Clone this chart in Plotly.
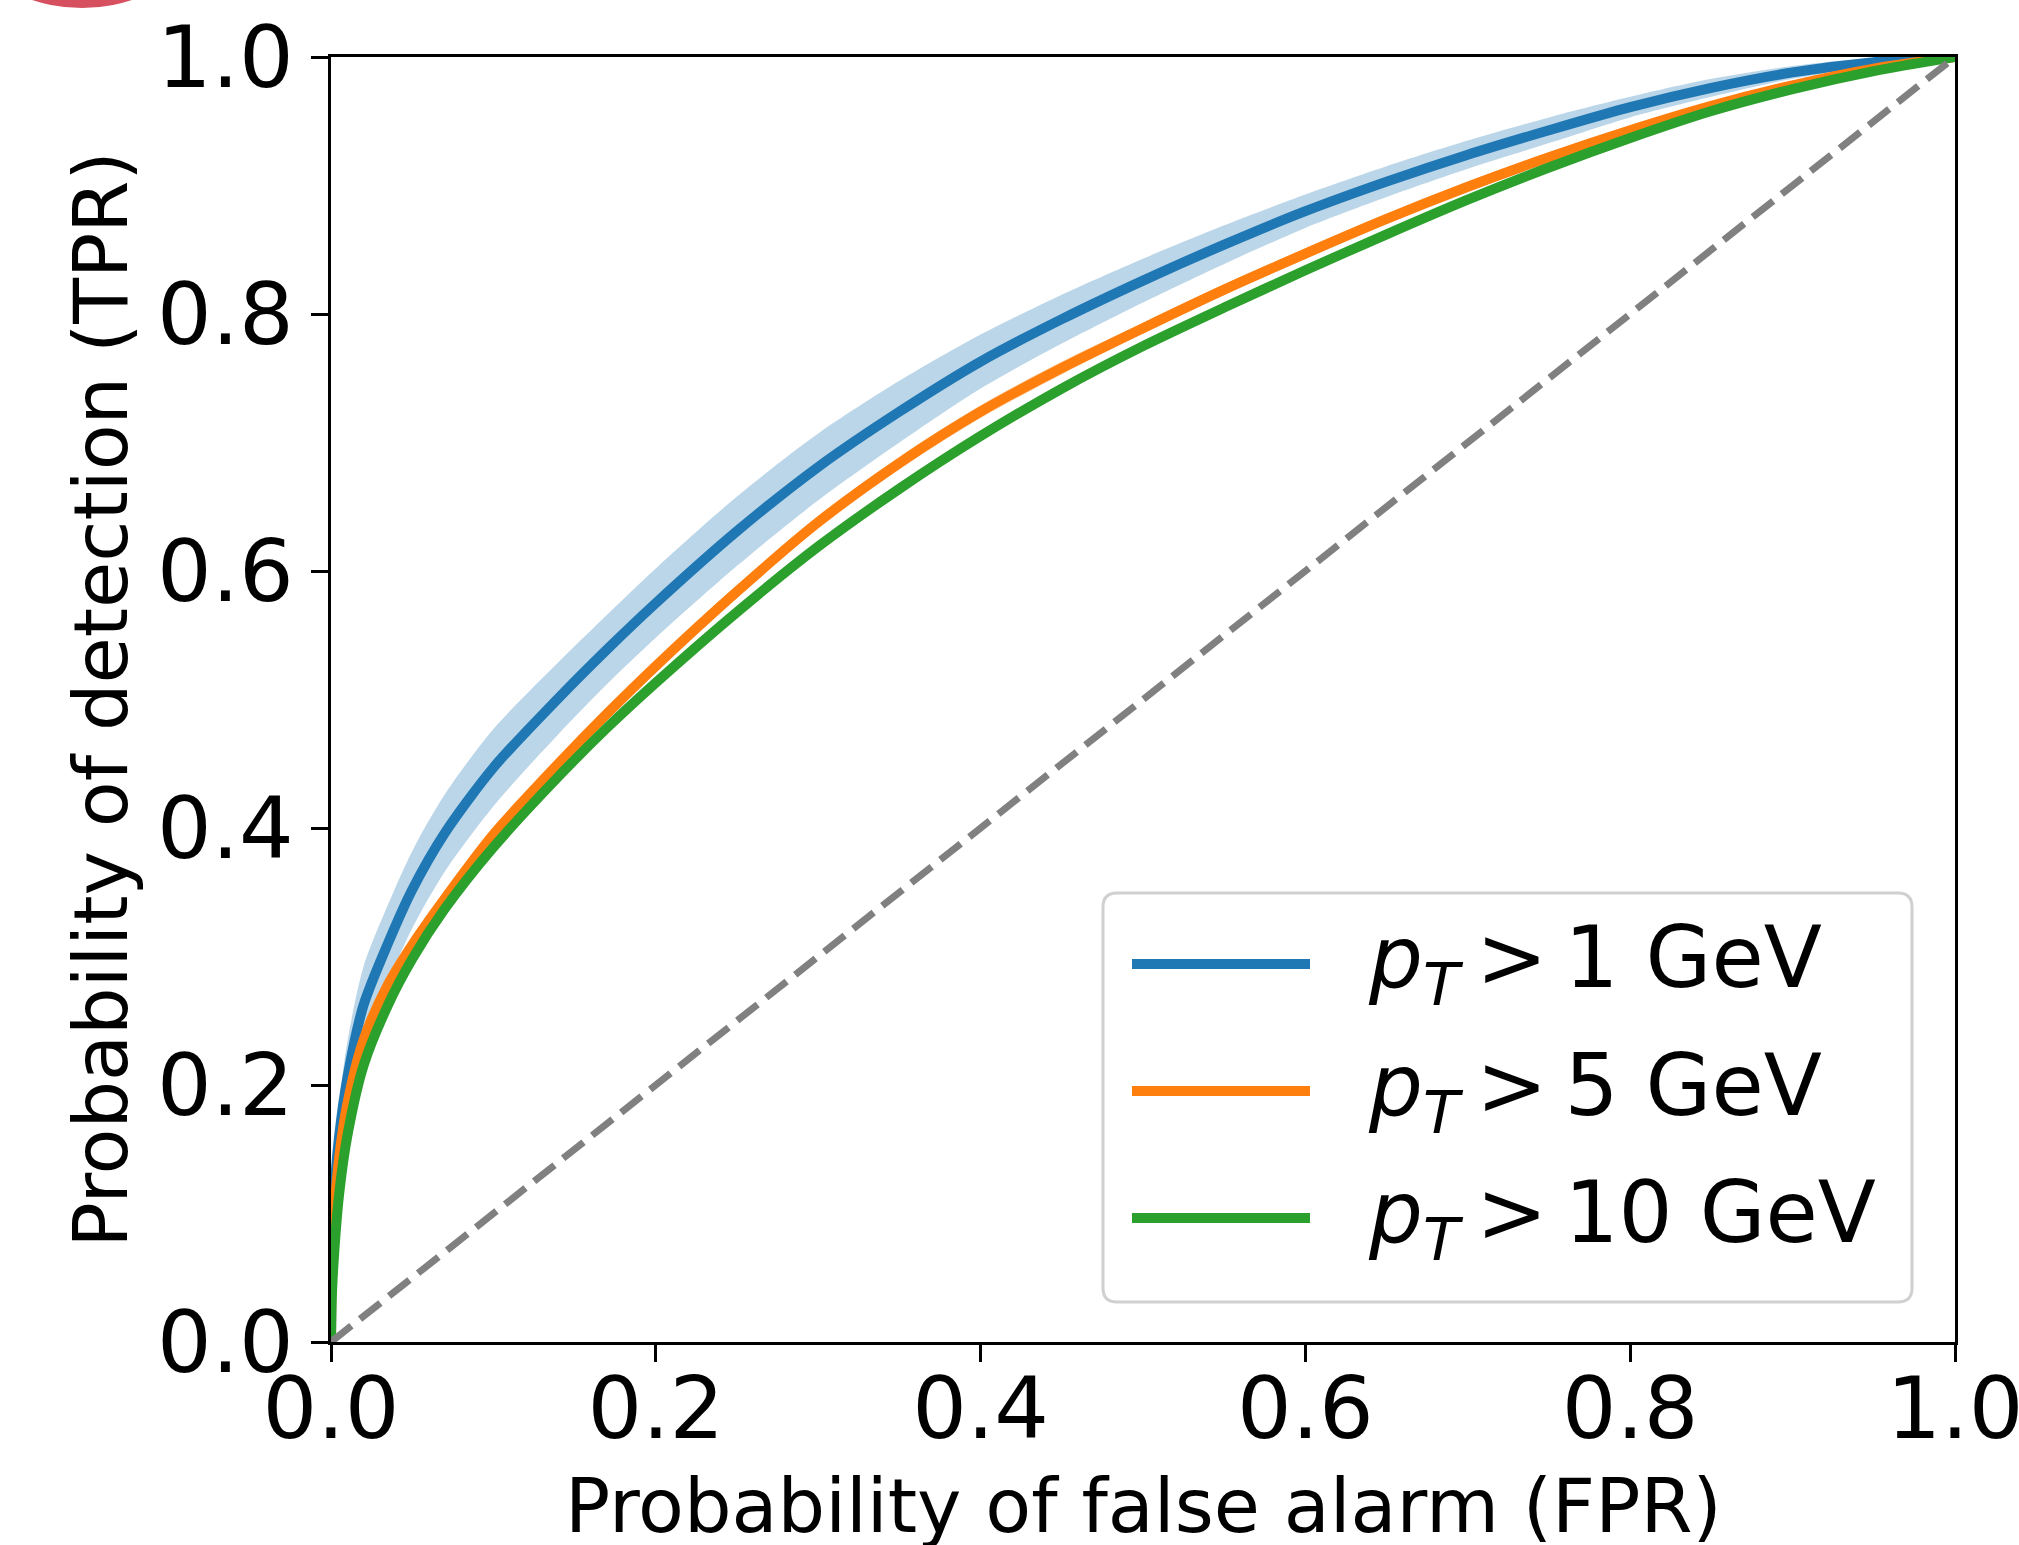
import plotly.graph_objects as go

# ---------------- data ----------------
fpr = [0, 0.0005, 0.002, 0.005, 0.01, 0.02, 0.035, 0.05, 0.07, 0.1, 0.14, 0.17, 0.2, 0.25,
       0.3, 0.35, 0.4, 0.45, 0.5, 0.55, 0.6, 0.65, 0.7, 0.75, 0.8, 0.85, 0.9, 0.95, 1.0]

tpr_1gev = [0, 0.07, 0.115, 0.16, 0.205, 0.262, 0.31, 0.352, 0.396, 0.447, 0.501, 0.539,
            0.575, 0.631, 0.681, 0.724, 0.763, 0.796, 0.826, 0.854, 0.880, 0.903, 0.924,
            0.943, 0.961, 0.976, 0.988, 0.996, 1.0]
tpr_1gev_lo = [0, 0.058, 0.095, 0.135, 0.177, 0.232, 0.28, 0.322, 0.366, 0.417, 0.473, 0.512,
               0.548, 0.604, 0.655, 0.70, 0.742, 0.777, 0.809, 0.839, 0.867, 0.891, 0.913,
               0.933, 0.953, 0.969, 0.983, 0.993, 1.0]
tpr_1gev_hi = [0, 0.082, 0.135, 0.185, 0.233, 0.292, 0.34, 0.382, 0.426, 0.477, 0.529, 0.566,
               0.602, 0.658, 0.707, 0.748, 0.784, 0.815, 0.843, 0.869, 0.893, 0.915, 0.935,
               0.953, 0.969, 0.983, 0.993, 0.999, 1.0]

tpr_5gev = [0, 0.06, 0.10, 0.143, 0.185, 0.235, 0.278, 0.309, 0.345, 0.395, 0.45, 0.489,
            0.526, 0.584, 0.638, 0.684, 0.724, 0.758, 0.789, 0.819, 0.847, 0.874, 0.899,
            0.922, 0.943, 0.962, 0.978, 0.991, 1.0]
tpr_5gev_lo = [0, 0.055, 0.095, 0.138, 0.18, 0.23, 0.273, 0.304, 0.34, 0.39, 0.445, 0.484,
               0.521, 0.579, 0.633, 0.679, 0.719, 0.753, 0.785, 0.815, 0.843, 0.87, 0.896,
               0.919, 0.941, 0.96, 0.977, 0.99, 1.0]
tpr_5gev_hi = [0, 0.065, 0.105, 0.148, 0.19, 0.24, 0.283, 0.314, 0.35, 0.4, 0.455, 0.494,
               0.531, 0.589, 0.643, 0.689, 0.729, 0.763, 0.793, 0.823, 0.851, 0.878, 0.902,
               0.925, 0.945, 0.964, 0.979, 0.992, 1.0]

tpr_10gev = [0, 0.035, 0.07, 0.115, 0.16, 0.215, 0.262, 0.298, 0.337, 0.385, 0.44, 0.478,
             0.513, 0.568, 0.619, 0.664, 0.705, 0.742, 0.775, 0.805, 0.834, 0.862, 0.889,
             0.914, 0.937, 0.958, 0.975, 0.989, 1.0]

chance = [0, 1]

labels = ["<i>p</i><sub><i>T</i></sub>\u2009>\u20091 GeV",
          "<i>p</i><sub><i>T</i></sub>\u2009>\u20095 GeV",
          "<i>p</i><sub><i>T</i></sub>\u2009>\u200910 GeV"]
colors = ["#1f77b4", "#ff7f0e", "#2ca02c"]
tick_vals = [0, 0.2, 0.4, 0.6, 0.8, 1.0]
tick_text = ["0.0", "0.2", "0.4", "0.6", "0.8", "1.0"]
x_title = "Probability of false alarm (FPR)"
y_title = "Probability of detection (TPR)"

# ---------------- layout geometry (pixels) ----------------
W, H = 2019, 1545
L, R, T, B = 331, 1955, 57, 1342
PW, PH = R - L, B - T


def px(x):
    return (x - L) / PW


def py(y):
    return (B - y) / PH


FONT = "DejaVu Sans"
SPL = dict(shape="spline", smoothing=0.8)

fig = go.Figure()

# blue band + line
fig.add_trace(go.Scatter(x=fpr + fpr[::-1], y=tpr_1gev_hi + tpr_1gev_lo[::-1],
                         fill="toself", fillcolor="rgba(31,119,180,0.3)",
                         line=dict(width=0, **SPL), mode="lines",
                         hoverinfo="skip", showlegend=False))
fig.add_trace(go.Scatter(x=fpr, y=tpr_1gev, mode="lines",
                         line=dict(color=colors[0], width=10, **SPL), showlegend=False))
# orange band + line
fig.add_trace(go.Scatter(x=fpr + fpr[::-1], y=tpr_5gev_hi + tpr_5gev_lo[::-1],
                         fill="toself", fillcolor="rgba(255,127,14,0.3)",
                         line=dict(width=0, **SPL), mode="lines",
                         hoverinfo="skip", showlegend=False))
fig.add_trace(go.Scatter(x=fpr, y=tpr_5gev, mode="lines",
                         line=dict(color=colors[1], width=10, **SPL), showlegend=False))
# green line
fig.add_trace(go.Scatter(x=fpr, y=tpr_10gev, mode="lines",
                         line=dict(color=colors[2], width=10, **SPL), showlegend=False))
# chance line
fig.add_trace(go.Scatter(x=chance, y=chance, mode="lines",
                         line=dict(color="#808080", width=7, dash="26px,11px"),
                         showlegend=False))

axis_common = dict(
    range=[0, 1], tickvals=tick_vals, ticktext=tick_text,
    showline=True, linecolor="black", linewidth=3, mirror=True,
    ticks="outside", ticklen=17, tickwidth=3, tickcolor="black",
    showgrid=False, zeroline=False, ticklabeloverflow="allow",
    tickfont=dict(family=FONT, size=86, color="black"),
)

fig.update_layout(
    width=W, height=H,
    margin=dict(l=L, r=W - R, t=T, b=H - B, autoexpand=False),
    paper_bgcolor="white", plot_bgcolor="white",
    showlegend=False,
    xaxis=dict(**axis_common, ticklabelstandoff=-27),
    yaxis=dict(**axis_common),
)

# ---------------- manual legend ----------------
bx0, bx1, by0, by1, rad = 1103, 1912, 893, 1302, 14
path = (f"M {px(bx0 + rad)} {py(by0)} L {px(bx1 - rad)} {py(by0)} "
        f"Q {px(bx1)} {py(by0)} {px(bx1)} {py(by0 + rad)} "
        f"L {px(bx1)} {py(by1 - rad)} "
        f"Q {px(bx1)} {py(by1)} {px(bx1 - rad)} {py(by1)} "
        f"L {px(bx0 + rad)} {py(by1)} "
        f"Q {px(bx0)} {py(by1)} {px(bx0)} {py(by1 - rad)} "
        f"L {px(bx0)} {py(by0 + rad)} "
        f"Q {px(bx0)} {py(by0)} {px(bx0 + rad)} {py(by0)} Z")
shapes = [dict(type="path", xref="paper", yref="paper", path=path,
               fillcolor="rgba(255,255,255,0.8)", line=dict(color="#d0d0d0", width=3),
               layer="above")]
annotations = []
row_y = [964, 1091, 1218]
for lab, col, ry in zip(labels, colors, row_y):
    shapes.append(dict(type="line", xref="paper", yref="paper",
                       x0=px(1132), x1=px(1310), y0=py(ry), y1=py(ry),
                       line=dict(color=col, width=10), layer="above"))
    annotations.append(dict(text=lab, xref="paper", yref="paper", x=px(1366), y=py(ry),
                            xanchor="left", yanchor="middle", showarrow=False,
                            font=dict(family=FONT, size=85, color="black")))

# axis titles
annotations.append(dict(text=x_title, xref="paper", yref="paper", x=0.5, y=py(1506),
                        xanchor="center", yanchor="middle", showarrow=False,
                        font=dict(family=FONT, size=75, color="black")))
annotations.append(dict(text=y_title, xref="paper", yref="paper", x=px(100), y=0.5,
                        xanchor="center", yanchor="middle", showarrow=False, textangle=-90,
                        font=dict(family=FONT, size=75, color="black")))

# cut-off red badge at the top-left corner
shapes.append(dict(type="circle", xref="paper", yref="paper",
                   x0=px(82 - 160), x1=px(82 + 160), y0=py(8), y1=py(8 - 320),
                   fillcolor="rgb(214,80,96)", line=dict(width=0), layer="above"))

fig.update_layout(shapes=shapes, annotations=annotations)
fig.write_html("out.html", config={"displayModeBar": False},
               post_script="document.body.style.margin='0px';")
